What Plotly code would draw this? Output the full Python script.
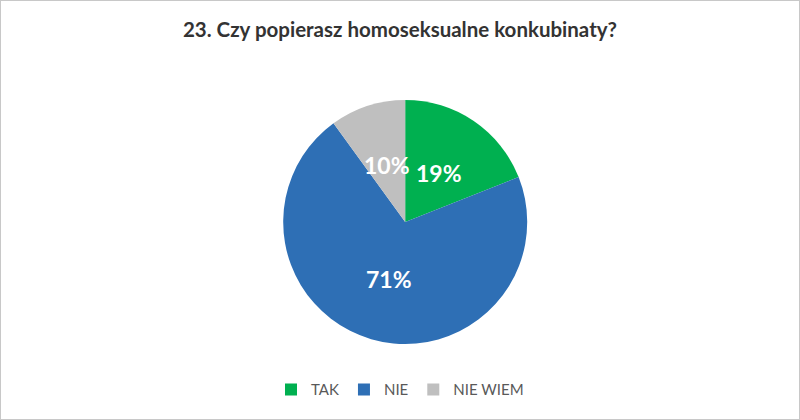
import math
import plotly.graph_objects as go

labels = ["TAK", "NIE", "NIE WIEM"]
values = [19, 71, 10]
colors = ["#00B050", "#2E6FB5", "#BFBFBF"]
title = "23. Czy popierasz homoseksualne konkubinaty?"

W, H = 800, 420
dom_x = [0.354, 0.659]
dom_y = [0.181, 0.762]
radius_px = (dom_x[1] - dom_x[0]) * W / 2
cx = (dom_x[0] + dom_x[1]) / 2
cy = (dom_y[0] + dom_y[1]) / 2

fig = go.Figure(go.Pie(
    labels=labels,
    values=values,
    sort=False,
    direction="clockwise",
    rotation=0,
    marker=dict(colors=colors, line=dict(width=0)),
    textinfo="none",
    domain=dict(x=dom_x, y=dom_y),
    hoverinfo="label+percent",
))

# percentage labels placed along each slice bisector (Excel-style, ~0.49 R)
total = sum(values)
annotations = []
cum = 0
for v in values:
    mid = (cum + v / 2) / total * 2 * math.pi
    cum += v
    dx = 0.49 * radius_px * math.sin(mid)
    dy = 0.49 * radius_px * math.cos(mid)
    annotations.append(dict(
        x=cx + dx / W, y=cy + dy / H, xref="paper", yref="paper",
        text="<b>%d%%</b>" % round(v / total * 100), showarrow=False,
        xanchor="center", yanchor="middle",
        font=dict(family="Lato, Open Sans, sans-serif", size=23, color="white"),
    ))

fig.update_layout(
    width=W, height=H,
    margin=dict(l=0, r=0, t=0, b=0),
    paper_bgcolor="white",
    plot_bgcolor="white",
    title=dict(text="<b>" + title + "</b>", x=0.5, xanchor="center", y=0.929, yanchor="middle",
               font=dict(family="Lato, Open Sans, sans-serif", size=20.5, color="#333333")),
    legend=dict(orientation="h", x=0.5, xanchor="center", y=0.072, yanchor="middle",
                font=dict(family="Lato, Open Sans, sans-serif", size=15, color="#595959"),
                itemwidth=30, traceorder="normal"),
    annotations=annotations,
    shapes=[dict(type="rect", xref="paper", yref="paper", x0=0, y0=0, x1=1, y1=1,
                 line=dict(color="#C8C8C8", width=2), fillcolor="rgba(0,0,0,0)")],
)

fig.write_html("out.html", config={"displayModeBar": False},
               post_script="document.body.style.margin='0';document.body.style.overflow='hidden';")
